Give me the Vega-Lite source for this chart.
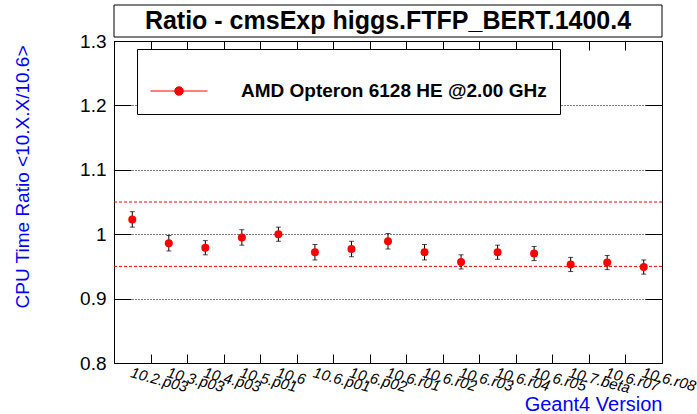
{
  "$schema": "https://vega.github.io/schema/vega-lite/v6.json",
  "width": 548,
  "height": 322,
  "autosize": {"type": "none"},
  "padding": {"left": 114, "top": 41, "right": 35, "bottom": 51},
  "background": "white",
  "config": {
    "view": {"stroke": "black", "strokeWidth": 1},
    "font": "Liberation Sans",
    "axis": {"labelFont": "Liberation Sans", "titleFont": "Liberation Sans", "labelColor": "black", "tickColor": "black", "tickWidth": 1}
  },
  "datasets": {
    "ratios": [
      {"version": "10.2.p03", "ratio": 1.023, "err": 0.012},
      {"version": "10.3.p03", "ratio": 0.986, "err": 0.012},
      {"version": "10.4.p03", "ratio": 0.979, "err": 0.011},
      {"version": "10.5.p01", "ratio": 0.995, "err": 0.012},
      {"version": "10.6", "ratio": 1.0, "err": 0.011},
      {"version": "10.6.p01", "ratio": 0.972, "err": 0.012},
      {"version": "10.6.p02", "ratio": 0.977, "err": 0.012},
      {"version": "10.6.r01", "ratio": 0.989, "err": 0.012},
      {"version": "10.6.r02", "ratio": 0.972, "err": 0.012},
      {"version": "10.6.r03", "ratio": 0.957, "err": 0.011},
      {"version": "10.6.r04", "ratio": 0.972, "err": 0.011},
      {"version": "10.6.r05", "ratio": 0.970, "err": 0.011},
      {"version": "10.7.beta", "ratio": 0.953, "err": 0.011},
      {"version": "10.6.r07", "ratio": 0.956, "err": 0.011},
      {"version": "10.6.r08", "ratio": 0.949, "err": 0.011}
    ],
    "refs": [{"ref": 1.05}, {"ref": 0.95}],
    "titlebox": [{"top": 1.3559, "bottom": 1.3062, "mid": 1.331, "label": "Ratio - cmsExp higgs.FTFP_BERT.1400.4"}]
  },
  "resolve": {"axis": {"x": "independent", "y": "independent"}},
  "layer": [
    {
      "data": {"name": "titlebox"},
      "mark": {"type": "rect", "fill": "white", "stroke": "black", "strokeWidth": 1},
      "encoding": {
        "y": {"field": "top", "type": "quantitative", "axis": null},
        "y2": {"field": "bottom"}
      }
    },
    {
      "data": {"name": "titlebox"},
      "mark": {"type": "text", "font": "Liberation Sans", "fontSize": 25, "fontWeight": "bold", "baseline": "middle", "align": "center", "color": "black"},
      "encoding": {
        "y": {"field": "mid", "type": "quantitative", "axis": null},
        "text": {"field": "label"}
      }
    },
    {
      "data": {"name": "refs"},
      "mark": {"type": "rule", "color": "red", "strokeWidth": 1, "strokeDash": [3, 2]},
      "encoding": {
        "y": {
          "field": "ref", "type": "quantitative",
          "axis": {"orient": "right", "labels": false, "values": [0.8, 0.9, 1, 1.1, 1.2, 1.3], "tickSize": -17, "grid": false, "domain": false, "title": null}
        }
      }
    },
    {
      "data": {"name": "ratios"},
      "mark": {"type": "errorbar", "ticks": {"size": 5, "color": "black", "thickness": 1}, "rule": {"color": "black", "strokeWidth": 1}},
      "encoding": {
        "x": {
          "field": "version", "type": "nominal", "sort": null,
          "axis": {"orient": "top", "labels": false, "tickBand": "extent", "tickSize": -9, "domain": false, "title": null}
        },
        "y": {"field": "ratio", "type": "quantitative", "axis": null},
        "yError": {"field": "err"}
      }
    },
    {
      "data": {"name": "ratios"},
      "mark": {"type": "point", "filled": true, "shape": "circle", "size": 64, "opacity": 1},
      "encoding": {
        "x": {
          "field": "version", "type": "nominal", "sort": null,
          "scale": {"paddingInner": 0, "paddingOuter": 0},
          "axis": {
            "orient": "bottom", "tickBand": "extent", "tickSize": -9, "domain": false,
            "labelAngle": 15, "labelAlign": "left", "labelBaseline": "top", "labelPadding": 11,
            "labelFontStyle": "italic", "labelFontSize": 15, "labelOverlap": false, "labelBound": false,
            "title": "Geant4 Version", "titleColor": "#0000ff", "titleFontSize": 20, "titleFontWeight": "normal",
            "titleAnchor": "end", "titleAlign": "right", "titleBaseline": "alphabetic", "titleY": 47, "titleX": 548
          }
        },
        "y": {
          "field": "ratio", "type": "quantitative",
          "scale": {"domain": [0.8, 1.3], "nice": false, "zero": false},
          "axis": {
            "orient": "left", "values": [0.8, 0.9, 1, 1.1, 1.2, 1.3], "format": "~g",
            "tickSize": -17, "labelPadding": 25, "labelFontSize": 19, "domain": false,
            "grid": true, "gridColor": "black", "gridDash": [1, 2], "gridWidth": 1, "gridOpacity": 1,
            "title": "CPU Time Ratio <10.X.X/10.6>", "titleColor": "#0000ff", "titleFontSize": 19, "titleFontWeight": "normal",
            "titleAngle": -90, "titleAlign": "right", "titleBaseline": "middle", "titleX": -92, "titleY": 4
          }
        },
        "color": {
          "datum": "AMD Opteron 6128 HE @2.00 GHz",
          "scale": {"range": ["red"]},
          "legend": {
            "orient": "none", "legendX": 23, "legendY": 8, "title": null,
            "strokeColor": "black", "fillColor": "white", "padding": 13, "cornerRadius": 0,
            "labelFont": "Liberation Sans", "labelFontSize": 19, "labelFontWeight": "bold", "labelColor": "black",
            "symbolType": "M-1,0H1M-0.15,0A0.15,0.15 0 1,0 0.15,0A0.15,0.15 0 1,0 -0.15,0Z",
            "symbolSize": 3249, "symbolStrokeWidth": 1, "symbolFillColor": "red", "symbolStrokeColor": "red", "symbolOpacity": 1,
            "labelOffset": 33, "labelLimit": 500
          }
        }
      }
    }
  ]
}
